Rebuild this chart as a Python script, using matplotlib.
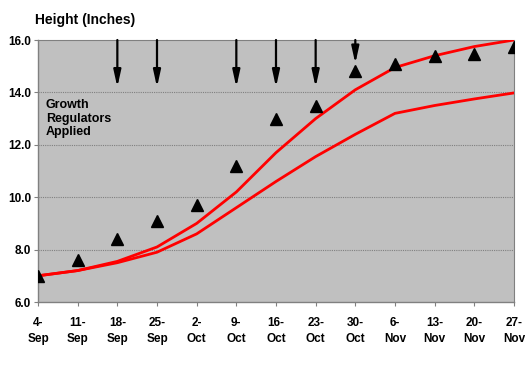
import numpy as np
import matplotlib.pyplot as plt

plt.rcParams['font.family'] = ['Liberation Sans', 'DejaVu Sans']

dates = ['4-\nSep', '11-\nSep', '18-\nSep', '25-\nSep', '2-\nOct', '9-\nOct', '16-\nOct',
         '23-\nOct', '30-\nOct', '6-\nNov', '13-\nNov', '20-\nNov', '27-\nNov']
measured = [7.0, 7.6, 8.4, 9.1, 9.7, 11.2, 13.0, 13.5, 14.8, 15.1, 15.4, 15.45, 15.75]
upper = [7.0, 7.2, 7.55, 8.1, 9.0, 10.2, 11.7, 13.0, 14.1, 14.95, 15.4, 15.75, 16.0]
lower = [7.0, 7.2, 7.5, 7.9, 8.6, 9.6, 10.6, 11.55, 12.4, 13.2, 13.5, 13.75, 13.98]
arrow_idx = [2, 3, 5, 6, 7, 8]
arrow_tip = [14.2, 14.2, 14.2, 14.2, 14.2, 15.1]

x = np.arange(len(dates))

fig = plt.figure(figsize=(5.25, 3.65), dpi=100)
ax = fig.add_axes([0.0724, 0.1726, 0.9066, 0.7178])
ax.set_facecolor('#C0C0C0')

for yv in [8, 10, 12, 14]:
    ax.axhline(yv, color='#808080', lw=0.8, ls=(0, (1, 1)), zorder=1)

ax.plot(x, upper, color='#FF0000', lw=2.0, zorder=3)
ax.plot(x, lower, color='#FF0000', lw=2.0, zorder=3)
ax.plot(x, measured, ls='none', marker='^', color='black', markersize=8, zorder=4)

for i, tip in zip(arrow_idx, arrow_tip):
    ax.annotate('', xy=(x[i], tip), xytext=(x[i], 16.0),
                arrowprops=dict(arrowstyle='-|>,head_length=1.0,head_width=0.22',
                                color='black', lw=1.6, shrinkA=0, shrinkB=0), zorder=5)

ax.text(0.2, 13.0, 'Growth\nRegulators\nApplied', fontsize=9, fontweight='bold',
        va='center', ha='left', linespacing=1.2)

ax.set_xlim(0, len(dates) - 1)
ax.set_ylim(6, 16)
ax.set_xticks(x)
ax.set_xticklabels(dates, fontsize=8.5, fontweight='bold', linespacing=1.45)
ax.set_yticks([6, 8, 10, 12, 14, 16])
ax.set_yticklabels(['6.0', '8.0', '10.0', '12.0', '14.0', '16.0'], fontsize=8.5, fontweight='bold')
ax.tick_params(axis='both', length=3, color='#808080', pad=8)
ax.tick_params(axis='y', pad=2)

for side in ['top', 'right']:
    ax.spines[side].set_color('#808080')
    ax.spines[side].set_linestyle((0, (1, 1)))
    ax.spines[side].set_linewidth(0.8)
for side in ['left', 'bottom']:
    ax.spines[side].set_color('#808080')
    ax.spines[side].set_linewidth(1.0)

fig.text(0.067, 0.945, 'Height (Inches)', fontsize=10, fontweight='bold', ha='left', va='center')

fig.savefig('out.png', dpi=100)
